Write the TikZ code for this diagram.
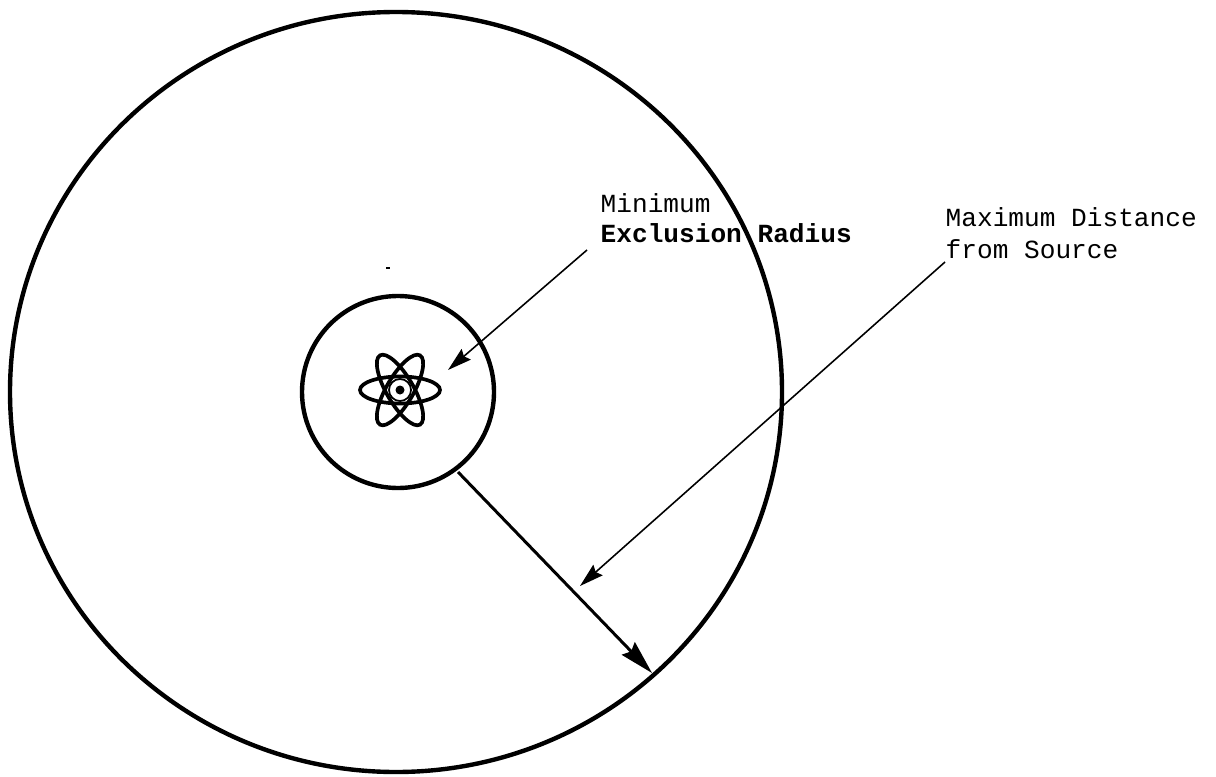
\documentclass[tikz,border=0pt]{standalone}
\usepackage{fontspec}
\setmonofont{Liberation Mono}
\usetikzlibrary{arrows.meta,shapes.geometric}
\tikzset{
  lbl/.style={anchor=base west, inner sep=0pt, font=\fontsize{7.44}{10}\selectfont\ttfamily},
  thin arrow/.style={line width=0.45pt, -{Stealth[length=2.4mm, width=1.4mm, inset=0.3mm]}},
  orbit/.style={draw, line width=1.05pt, ellipse, inner sep=0pt, minimum width=0.8cm, minimum height=0.27cm}
}
\begin{document}
\begin{tikzpicture}
\useasboundingbox (0,0) rectangle (12.16,7.76);
\draw[line width=1.25pt] (3.96,3.84) ellipse [x radius=3.86, y radius=3.80];
\draw[line width=1.25pt] (3.98,3.84) circle (0.96);
% source symbol
\coordinate (source) at (4.00,3.86);
\node[orbit] at (source) {};
\node[orbit, rotate=60] at (source) {};
\node[orbit, rotate=-60] at (source) {};
\filldraw[fill=white, line width=0.5pt, draw=black] (source) circle (0.11);
\fill (source) circle (0.045);
\draw[line width=0.5pt] (3.86,5.08) -- (3.90,5.08);
% labels
\node[lbl] (minimum) at (6.00,5.64) {Minimum};
\node[lbl] (exclusion) at (6.00,5.33) {\bfseries Exclusion Radius};
\node[lbl] (maximum) at (9.45,5.50) {Maximum Distance};
\node[lbl] (from) at (9.45,5.18) {from Source};
% arrows
\coordinate (mintail) at (5.87,5.26);
\coordinate (minhead) at (4.48,4.06);
\coordinate (maxtail) at (9.45,5.14);
\coordinate (maxhead) at (5.80,1.90);
\coordinate (radstart) at (4.58,3.04);
\coordinate (radend) at (6.52,1.03);
\draw[thin arrow] (mintail) -- (minhead);
\draw[thin arrow] (maxtail) -- (maxhead);
\draw[line width=0.85pt, -{Stealth[length=3.4mm, width=1.8mm, inset=0.4mm]}] (radstart) -- (radend);
\end{tikzpicture}
\end{document}
